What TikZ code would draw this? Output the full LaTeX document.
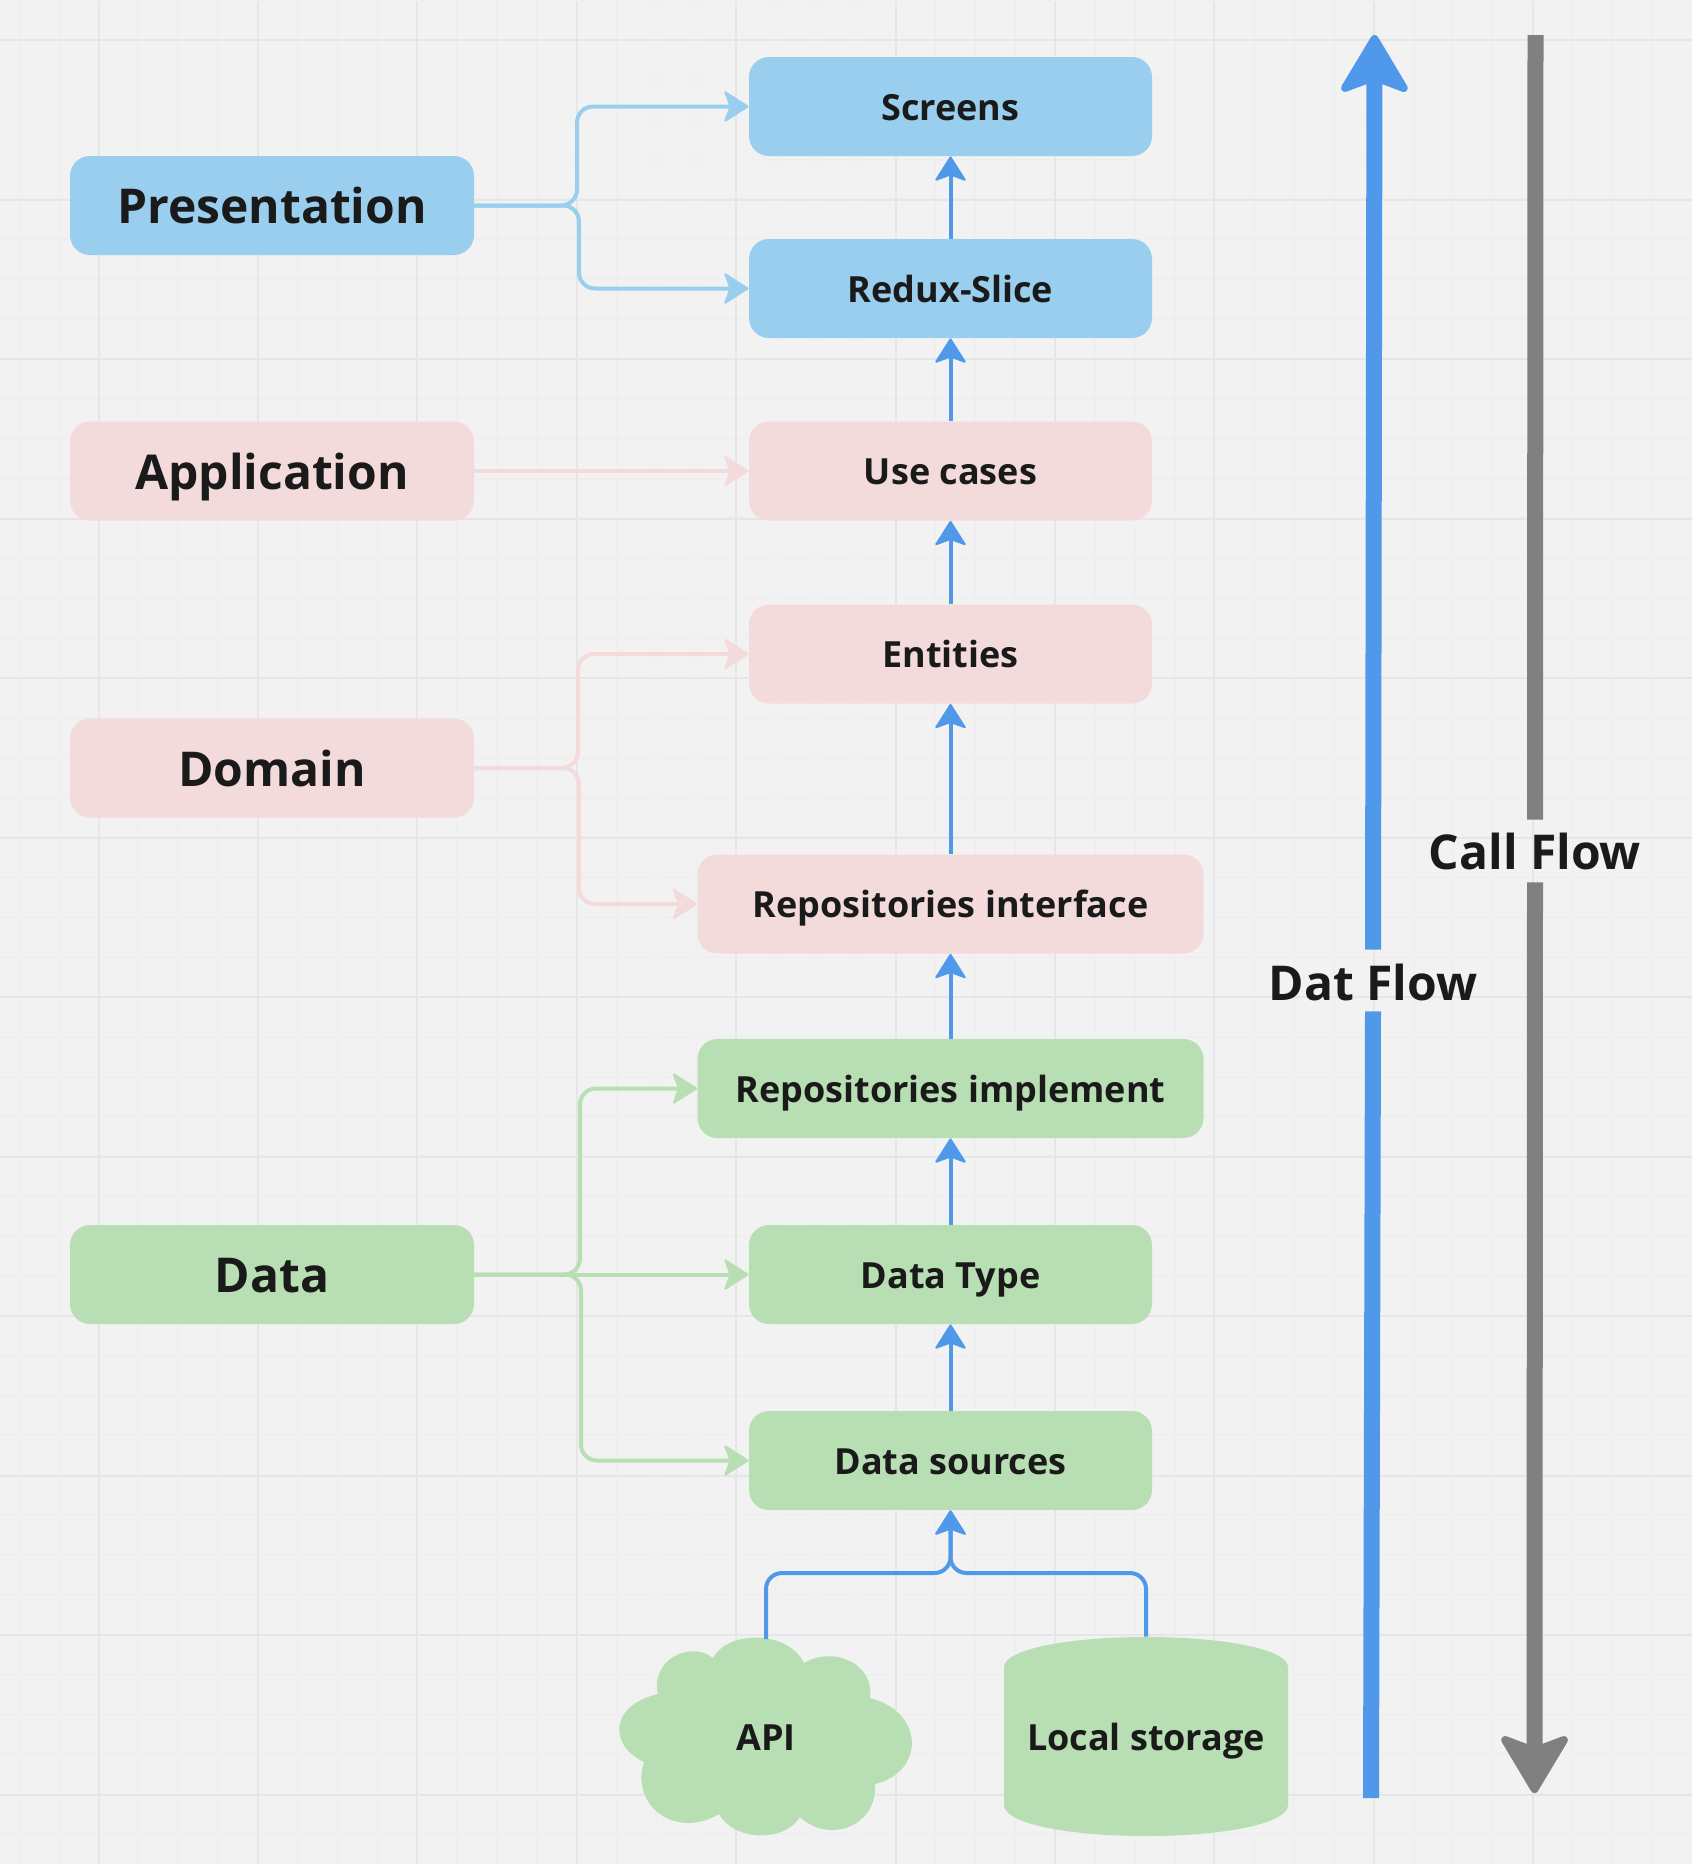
\documentclass[tikz,border=0pt]{standalone}
\usepackage{fontspec}
\setmainfont{Open Sans}
\usepackage{xcolor}
\definecolor{canvas}{HTML}{F2F2F2}
\definecolor{gridmajor}{HTML}{E6E6E6}
\definecolor{gridminor}{HTML}{EFEFEF}
\definecolor{skyfill}{HTML}{9ACEEF}
\definecolor{pinkfill}{HTML}{F3DADB}
\definecolor{greenfill}{HTML}{B8DFB3}
\definecolor{flowblue}{HTML}{5099EA}
\definecolor{flowgrey}{HTML}{808080}
\definecolor{ink}{HTML}{1A1A1A}
\usetikzlibrary{arrows.meta}

\tikzset{
  layer/.style={rounded corners=10pt, minimum width=202pt, minimum height=49.5pt, inner sep=0pt, text=ink, text height=18.2pt, text depth=0pt, font=\fontsize{24}{26}\selectfont\bfseries},
  parttext/.style={inner sep=0pt, text=ink, text height=13.5pt, text depth=0pt, font=\fontsize{18}{20}\selectfont\bfseries},
  part/.style={parttext, rounded corners=10pt, minimum width=201.5pt, minimum height=49.5pt},
  widepart/.style={part, minimum width=253pt},
  flowlabel/.style={inner sep=0pt, text=ink, text height=18.8pt, text depth=0pt, font=\fontsize{24}{26}\selectfont\bfseries},
  link/.style={line width=2pt, rounded corners=8pt, -{Stealth[round, line width=1pt, length=13pt, width=16.5pt, inset=3pt]}},
  upflow/.style={link, draw=flowblue},
  bigflow/.style={line width=8pt, -{Stealth[round, line width=4pt, length=32pt, width=38pt, inset=7pt]}},
}

\begin{document}
\begin{tikzpicture}[x=0.5pt, y=-0.5pt]
    \path[use as bounding box, fill=canvas] (0,0) rectangle (1692,1864);

    % Grid
    \foreach \k in {0,...,42} {
      \draw[gridminor, line width=1pt] ({-21+39.85*\k},0) -- ({-21+39.85*\k},1864);
    }
    \foreach \k in {0,...,46} {
      \draw[gridminor, line width=1pt] (0,{0.1+39.87*\k}) -- (1692,{0.1+39.87*\k});
    }
    \foreach \k in {0,...,10} {
      \draw[gridmajor, line width=1pt] ({98.5+159.4*\k},2) -- ({98.5+159.4*\k},1864);
    }
    \foreach \k in {0,...,11} {
      \draw[gridmajor, line width=1pt] (0,{40+159.5*\k}) -- (1692,{40+159.5*\k});
    }

    % Layers
    \node[layer, fill=skyfill] (presentation) at (272,205.5) {Presentation};
    \node[layer, fill=pinkfill] (application) at (272,471) {Application};
    \node[layer, fill=pinkfill] (domain) at (272,768) {Domain};
    \node[layer, fill=greenfill] (data) at (272,1274.5) {Data};

    % Parts
    \node[part, fill=skyfill] (screens) at (950.5,106.5) {Screens};
    \node[part, fill=skyfill] (redux) at (950.5,288.5) {Redux-Slice};
    \node[part, fill=pinkfill] (usecases) at (950.5,471) {Use cases};
    \node[part, fill=pinkfill] (entities) at (950.5,654) {Entities};
    \node[widepart, fill=pinkfill] (repoiface) at (950.5,904) {Repositories interface};
    \node[widepart, fill=greenfill] (repoimpl) at (950.5,1088.5) {Repositories implement};
    \node[part, fill=greenfill] (datatype) at (950.5,1274.5) {Data Type};
    \node[part, fill=greenfill] (sources) at (950.5,1460.5) {Data sources};

    % Stores
    \fill[greenfill] (713,1658) .. controls (728,1630) and (788,1630) .. (804,1663)
      .. controls (835,1645) and (875,1665) .. (870,1698)
      .. controls (925,1712) and (925,1772) .. (875,1784)
      .. controls (878,1825) and (830,1845) .. (800,1817)
      .. controls (785,1842) and (735,1842) .. (719,1814)
      .. controls (675,1840) and (630,1805) .. (644,1762)
      .. controls (608,1745) and (610,1705) .. (658,1694)
      .. controls (650,1660) and (690,1640) .. (713,1658) -- cycle;
    \node[parttext, minimum width=147pt, minimum height=97.5pt] (api) at (766,1737) {API};
    \fill[greenfill] (1004,1667) .. controls (1004,1650) and (1065,1637) .. (1146,1637)
      .. controls (1227,1637) and (1288,1650) .. (1288,1667) -- (1288,1805)
      .. controls (1288,1823) and (1227,1836) .. (1146,1836)
      .. controls (1065,1836) and (1004,1823) .. (1004,1805) -- cycle;
    \node[parttext, minimum width=142pt, minimum height=99.5pt] (storage) at (1146,1736.5) {Local storage};

    % Layer links
    \coordinate (presup) at (577,156);
    \coordinate (presdown) at (579,255);
    \draw[link, skyfill] (presentation.east) -| (presup) |- (screens.west);
    \draw[link, skyfill] (presentation.east) -| (presdown) |- (redux.west);
    \draw[link, pinkfill] (application.east) -- (usecases.west);
    \coordinate (domup) at (578,700);
    \coordinate (domdown) at (579,840);
    \draw[link, pinkfill] (domain.east) -| (domup) |- (entities.west);
    \draw[link, pinkfill] (domain.east) -| (domdown) |- (repoiface.west);
    \coordinate (dataup) at (580,1200);
    \coordinate (datadown) at (581,1350);
    \draw[link, greenfill] (data.east) -| (dataup) |- (repoimpl.west);
    \draw[link, greenfill] (data.east) -- (datatype.west);
    \draw[link, greenfill] (data.east) -| (datadown) |- (sources.west);

    % Call order
    \draw[upflow] (redux.north) -- (screens.south);
    \draw[upflow] (usecases.north) -- (redux.south);
    \draw[upflow] (entities.north) -- (usecases.south);
    \draw[upflow] (repoiface.north) -- (entities.south);
    \draw[upflow] (repoimpl.north) -- (repoiface.south);
    \draw[upflow] (datatype.north) -- (repoimpl.south);
    \draw[upflow] (sources.north) -- (datatype.south);
    \coordinate (storejoin) at (950.5,1573);
    \draw[upflow] (api.north) |- (storejoin) -- (sources.south);
    \draw[upflow] (storage.north) |- (storejoin) -- (sources.south);

    % Side flows
    \node[flowlabel, text height=20pt, minimum height=30.5pt] (datflow) at (1373,980.5) {Dat Flow};
    \node[flowlabel, minimum height=31pt] (callflow) at (1535,851) {Call Flow};
    \coordinate (datfoot) at (1371,1798);
    \coordinate (dattip) at (1374.5,35);
    \coordinate (calltop) at (1535.5,35);
    \coordinate (calltip) at (1534.5,1793);
    \draw[line width=8pt, flowblue] (datfoot) -- (datflow.south);
    \draw[bigflow, flowblue] (datflow.north) -- (dattip);
    \draw[line width=8pt, flowgrey] (calltop) -- (callflow.north);
    \draw[bigflow, flowgrey] (callflow.south) -- (calltip);
  \end{tikzpicture}
\end{document}
